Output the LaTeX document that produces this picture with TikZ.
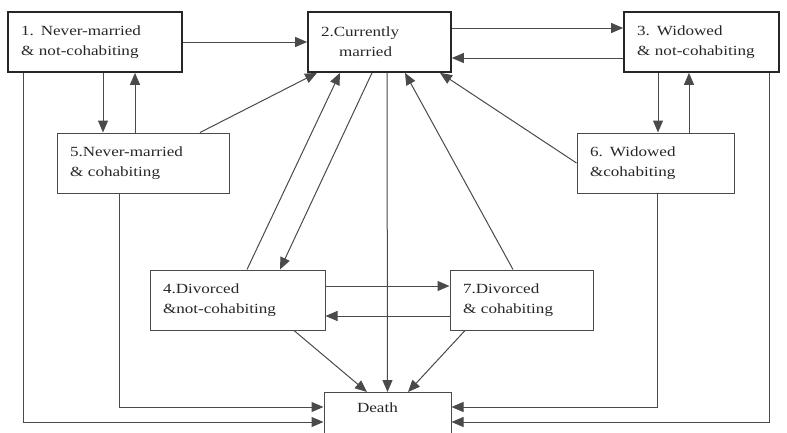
\documentclass[tikz,border=0pt]{standalone}
\usepackage{fontspec}
\setmainfont{Liberation Serif}[FakeStretch=1.22]
\usepackage{tikz}
\usetikzlibrary{arrows.meta, positioning, calc}
\definecolor{lineGray}{HTML}{4A4A4A}
\tikzset{
  state/.style={draw=lineGray, line width=1pt, align=left, inner xsep=13pt, minimum height=60pt, font=\fontsize{14}{20}\selectfont, text=black!85},
  heavy/.style={draw=black!85, line width=1.7pt},
  link/.style={draw=lineGray, line width=1pt, -{Triangle[length=12pt,width=10pt]}},
}

\begin{document}
\begin{tikzpicture}[x=1pt, y=-1pt]
        \useasboundingbox (0,0) rectangle (787,432);
        \clip (0,0) rectangle (787,432);

        % Top row (y = 42)
        \node[state, heavy, text width=148pt] (nm) at (95, 42) {1. Never-married\\\& not-cohabiting};
        \node[state, heavy, text width=117pt] (cm) at (379.5, 42) {2.Currently\\\hspace*{18pt}married};
        \node[state, heavy, text width=129pt] (wd) at (701.5, 42) {3. Widowed\\\& not-cohabiting};

        % Cohabiting (y = 163)
        \node[state, text width=146pt] (nmc) at (143, 163) {5.Never-married\\\& cohabiting};
        \node[state, text width=131pt] (wdc) at (655.5, 163) {6. Widowed\\\&cohabiting};

        % Divorced (y = 300)
        \node[state, text width=149pt] (dv) at (237.5, 300) {4.Divorced\\\&not-cohabiting};
        \node[state, text width=117pt] (dvc) at (521.5, 300) {7.Divorced\\\& cohabiting};

        % Absorbing state (runs off the bottom)
        \node[state, anchor=north, text width=101pt, text height=10pt, text depth=50pt, inner ysep=10pt] (death) at (387.5, 392) {\hspace*{20pt}Death};

        % Marriage flows
        \draw[link] (nm.east) -- (cm.west);
        \draw[link] ([yshift=14pt]cm.east) -- ([yshift=14pt]wd.west);
        \draw[link] ([yshift=-16pt]wd.west) -- ([yshift=-16pt]cm.east);
        \draw[link] ([xshift=57pt]nmc.north) -- ([xshift=-62.5pt]cm.south);
        \draw[link] ([xshift=9.5pt]dv.north) -- ([xshift=-39.5pt]cm.south);
        \draw[link] ([xshift=-7.5pt]cm.south) -- ([xshift=42.5pt]dv.north);
        \draw[link] (wdc.west) -- ([xshift=60.5pt]cm.south);
        \draw[link] ([xshift=-8.5pt]dvc.north) -- ([xshift=25.5pt]cm.south);

        % Cohabiting on / off
        \draw[link] ([xshift=8pt]nm.south) -- ([xshift=8pt]nm.south |- nmc.north);
        \draw[link] ([xshift=-8pt]nmc.north) -- ([xshift=-8pt]nmc.north |- nm.south);
        \draw[link] ([xshift=-43.5pt]wd.south) -- ([xshift=-43.5pt]wd.south |- wdc.north);
        \draw[link] ([xshift=33.5pt]wdc.north) -- ([xshift=33.5pt]wdc.north |- wd.south);
        \draw[link] ([yshift=14pt]dv.east) -- ([yshift=14pt]dv.east -| dvc.west);
        \draw[link] ([yshift=-16pt]dvc.west) -- ([yshift=-16pt]dvc.west -| dv.east);

        % Into Death
        \draw[link] ([xshift=7.5pt]cm.south) -- (death.north);
        \draw[link] ([xshift=56.5pt]dv.south) -- ([xshift=-20.5pt]death.north);
        \draw[link] ([xshift=-56.5pt]dvc.south) -- ([xshift=20.5pt]death.north);
        \draw[link] ([xshift=-24pt]nmc.south) |- ([yshift=-15pt]death.north west);
        \draw[link] ([xshift=-72pt]nm.south) |- ([yshift=-30pt]death.north west);
        \draw[link] ([xshift=1.5pt]wdc.south) |- ([yshift=-15pt]death.north east);
        \draw[link] ([xshift=67.5pt]wd.south) |- ([yshift=-30pt]death.north east);
    \end{tikzpicture}
\end{document}
